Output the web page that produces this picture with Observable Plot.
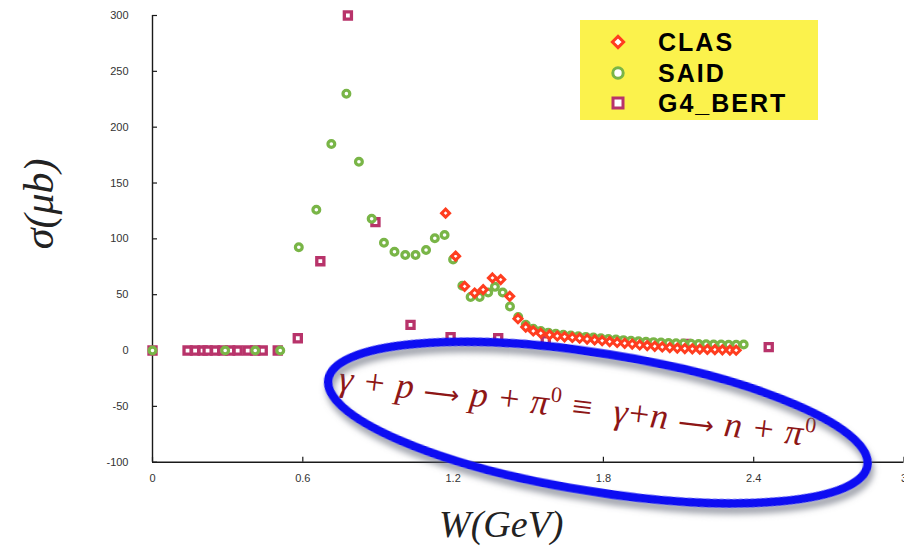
<!DOCTYPE html>
<html><head><meta charset="utf-8">
<script src="https://cdn.jsdelivr.net/npm/d3@7"></script>
<script src="https://cdn.jsdelivr.net/npm/@observablehq/plot@0.6"></script>
<style>
body{margin:0;background:#fff;}
#wrap{position:relative;width:904px;height:547px;overflow:hidden;background:#fff;}
#legend{position:absolute;left:580px;top:20px;width:238px;height:100px;background:#fbf24c;}
.lrow{position:absolute;left:0;height:30px;width:238px;}
.lrow svg{position:absolute;left:27px;top:4px;}
.lrow span{position:absolute;left:78px;top:0;font:bold 25px "Liberation Sans",Arial,sans-serif;letter-spacing:2px;line-height:30px;color:#000;}
</style></head><body><div id="wrap"></div>
<script>
// ---- data ----
const seriesNames = ["CLAS", "SAID", "G4_BERT"];
const seriesColors = ["#ff3d1f", "#79b547", "#b8336a"];
const xTicks = [0, 0.6, 1.2, 1.8, 2.4, 3];
const xTickLabels = ["0", "0.6", "1.2", "1.8", "2.4", "3"];
const yTicks = [-100, -50, 0, 50, 100, 150, 200, 250, 300];

const clasW = [1.17, 1.21, 1.246, 1.286, 1.32, 1.357, 1.39, 1.426, 1.459, 1.49, 1.52, 1.55, 1.585, 1.616, 1.645, 1.676, 1.705, 1.735, 1.765, 1.795, 1.825, 1.855, 1.885, 1.915, 1.945, 1.975, 2.005, 2.035, 2.065, 2.095, 2.125, 2.155, 2.185, 2.215, 2.245, 2.275, 2.305, 2.33];
const clasS = [123, 84.5, 57.5, 51.5, 54.5, 65, 63.5, 48.5, 28.5, 21, 17.5, 15.5, 14, 13, 12.3, 11.7, 11, 10.3, 9.5, 8.8, 8, 7.2, 6.5, 5.8, 5, 4.4, 3.8, 3.2, 2.7, 2.2, 1.8, 1.5, 1.2, 1, 0.8, 0.6, 0.4, 0.3];

const saidW = [0, 0.29, 0.41, 0.51, 0.584, 0.654, 0.714, 0.774, 0.824, 0.875, 0.924, 0.966, 1.009, 1.05, 1.092, 1.127, 1.166, 1.20, 1.237, 1.27, 1.306, 1.34, 1.367, 1.398, 1.427, 1.46, 1.49, 1.52, 1.55, 1.58, 1.61, 1.64, 1.67, 1.70, 1.73, 1.76, 1.79, 1.82, 1.85, 1.88, 1.91, 1.94, 1.97, 2.00, 2.03, 2.06, 2.09, 2.12, 2.15, 2.18, 2.21, 2.24, 2.27, 2.30, 2.33, 2.36];
const saidS = [0, 0, 0, 0, 92.5, 126, 185, 230, 169, 118, 96.5, 88.5, 85.5, 85.5, 90, 100.5, 103.5, 81.5, 58, 48, 48, 52, 57, 52, 39.5, 30, 23, 19.5, 17.5, 16, 15, 14.2, 13.5, 12.8, 12.2, 11.6, 11, 10.4, 9.8, 9.3, 8.8, 8.3, 7.9, 7.5, 7.1, 6.8, 6.5, 6.2, 6, 5.8, 5.6, 5.4, 5.3, 5.2, 5.1, 5.4];

const g4W = [0, 0.14, 0.17, 0.20, 0.22, 0.25, 0.28, 0.31, 0.34, 0.38, 0.41, 0.44, 0.50, 0.58, 0.67, 0.78, 0.89, 1.03, 1.19, 1.38, 1.57, 2.13, 2.46];
const g4S = [0, 0, 0, 0, 0, 0, 0, 0, 0, 0, 0, 0, 0, 11, 80, 300, 115, 23, 12, 11, 9, 6, 3];

const xTitle = "W(GeV)";
const yTitle = "σ(μb)";
// equation tokens: [text, kind]  (i = italic symbol, o = operator, a = arrow, s = superscript)
const equationTokens = [["γ", "i"], [" + ", "o"], ["p", "i"], [" ⟶ ", "a"], ["p", "i"], [" + ", "o"], ["π", "i"], ["0", "s"],
  [" ≡  ", "o"], ["γ", "i"], ["+", "o"], ["n", "i"], [" ⟶ ", "a"], ["n", "i"], [" + ", "o"], ["π", "i"], ["0", "s"]];
// annotation anchors (data units)
const eqAt = {W: 1.70, s: -50};
const ellipseAt = {W: 1.78, s: -65};

// ---- build ----
const clas = clasW.map((W, i) => ({W, s: clasS[i]}));
const said = saidW.map((W, i) => ({W, s: saidS[i]}));
const g4 = g4W.map((W, i) => ({W, s: g4S[i]}));

const serif = "'Liberation Serif', 'DejaVu Serif', serif";
const plot = Plot.plot({
  width: 904, height: 547,
  marginLeft: 152, marginRight: 0.5, marginTop: 15, marginBottom: 85.3,
  x: {domain: [0, 3]},
  y: {domain: [-100, 300]},
  style: {background: "transparent", fontFamily: "'Liberation Sans', Arial, sans-serif"},
  marks: [
    Plot.ruleX([0], {stroke: "#1a1a1a", strokeWidth: 1.4}),
    Plot.ruleY([-100], {stroke: "#1a1a1a", strokeWidth: 1.4}),
    Plot.tickY(yTicks, {y: d => d, insetRight: 746.5, stroke: "#1a1a1a", strokeWidth: 1.2}),
    Plot.tickX(xTicks, {x: d => d, insetTop: 441.7, stroke: "#1a1a1a", strokeWidth: 1.2}),
    Plot.axisY({ticks: yTicks, tickFormat: d => String(d), tickSize: 0, tickPadding: 24, fontSize: 11, label: null, fill: "#333"}),
    Plot.axisX({ticks: xTicks, tickFormat: d => xTickLabels[xTicks.indexOf(d)], tickSize: 0, tickPadding: 12, fontSize: 11, label: null, fill: "#333"}),
    Plot.text([yTitle], {frameAnchor: "left", textAnchor: "middle", lineAnchor: "middle", dx: -113, dy: -35, rotate: -90, fontSize: 42, fontStyle: "italic", fontFamily: serif, fill: "#222", letterSpacing: 3}),
    Plot.text([xTitle], {frameAnchor: "bottom", textAnchor: "middle", lineAnchor: "middle", dx: -27, dy: 63, fontSize: 38, fontStyle: "italic", fontFamily: serif, fill: "#222", letterSpacing: 7}),
    Plot.dot(g4, {x: "W", y: "s", symbol: "square", r: 4, fill: "white", stroke: seriesColors[2], strokeWidth: 3.3}),
    Plot.dot(said, {x: "W", y: "s", symbol: "circle", r: 3.4, fill: "white", stroke: seriesColors[1], strokeWidth: 3.2}),
    Plot.dot(clas, {x: "W", y: "s", symbol: "diamond2", r: 3.6, fill: "white", stroke: seriesColors[0], strokeWidth: 3})
  ]
});

const wrap = document.getElementById("wrap");
wrap.appendChild(plot);

const svg = d3.select(plot);
const sx = plot.scale("x"), sy = plot.scale("y");

// equation annotation
const ex = sx.apply(eqAt.W), ey = sy.apply(eqAt.s);
const eq = svg.append("text")
  .attr("transform", `translate(${ex},${ey}) rotate(6.8)`)
  .attr("text-anchor", "middle").attr("dy", "0.35em")
  .attr("font-family", serif).attr("font-size", 36).attr("letter-spacing", 1.2)
  .attr("fill", "#8e1616");
let raised = false;
equationTokens.forEach(([t, kind]) => {
  const ts = eq.append("tspan").text(t);
  if (kind === "i") ts.attr("font-style", "italic");
  if (kind === "a") ts.attr("font-family", "'DejaVu Sans', sans-serif").attr("font-size", 25);
  if (kind === "s") {
    ts.attr("font-size", 22).attr("dy", -14);
    raised = true;
  } else if (raised) {
    ts.attr("dy", 14);
    raised = false;
  }
});

// ellipse annotation with drop shadow
const defs = svg.append("defs");
const f = defs.append("filter").attr("id", "shadow").attr("x", "-20%").attr("y", "-40%").attr("width", "140%").attr("height", "180%");
f.append("feDropShadow").attr("dx", 3).attr("dy", 6).attr("stdDeviation", 3).attr("flood-color", "#5a6070").attr("flood-opacity", 0.6);
const cx = sx.apply(ellipseAt.W), cy = sy.apply(ellipseAt.s);
svg.append("ellipse")
  .attr("cx", cx).attr("cy", cy).attr("rx", 273).attr("ry", 69)
  .attr("transform", `rotate(9.1 ${cx} ${cy})`)
  .attr("fill", "none").attr("stroke", "#0808f2").attr("stroke-width", 8.5)
  .attr("filter", "url(#shadow)");

// legend
const legend = document.createElement("div");
legend.id = "legend";
const symbols = [d3.symbolDiamond2, d3.symbolCircle, d3.symbolSquare];
const symSizes = [80, 85, 100];
seriesNames.forEach((name, i) => {
  const row = document.createElement("div");
  row.className = "lrow";
  row.style.top = (7 + i * 30.5) + "px";
  const s = d3.create("svg").attr("width", 22).attr("height", 22);
  s.append("path").attr("transform", "translate(11,11)")
    .attr("d", d3.symbol(symbols[i], symSizes[i])())
    .attr("fill", "white").attr("stroke", seriesColors[i]).attr("stroke-width", 3);
  row.appendChild(s.node());
  const t = document.createElement("span");
  t.textContent = name;
  row.appendChild(t);
  legend.appendChild(row);
});
wrap.appendChild(legend);
</script>
</body></html>
